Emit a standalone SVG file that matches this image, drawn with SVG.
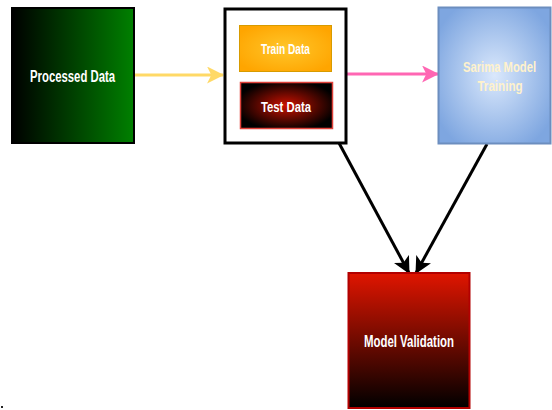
<svg xmlns="http://www.w3.org/2000/svg" width="552" height="410" viewBox="0 0 552 410">
<style>
.lbl{font-family:"Liberation Sans",Arial,sans-serif;font-weight:bold;text-anchor:middle;fill:#ffffff}
.conn{fill:none;stroke-width:3}
</style>
<defs>
<linearGradient id="gGreen" x1="0" y1="0" x2="1" y2="0"><stop offset="0" stop-color="#000000"/><stop offset="1" stop-color="#008000"/></linearGradient>
<radialGradient id="gTrain" cx="0.5" cy="0.5" r="0.6"><stop offset="0" stop-color="#FFC62A"/><stop offset="1" stop-color="#FFA500"/></radialGradient>
<radialGradient id="gTest" cx="0.5" cy="0.5" r="0.55"><stop offset="0" stop-color="#CC1100"/><stop offset="1" stop-color="#000000"/></radialGradient>
<radialGradient id="gSarima" cx="0.5" cy="0.5" r="0.6"><stop offset="0" stop-color="#DAE8FC"/><stop offset="1" stop-color="#7EA6E0"/></radialGradient>
<linearGradient id="gVal" x1="0" y1="0" x2="0" y2="1"><stop offset="0" stop-color="#E01500"/><stop offset="1" stop-color="#000000"/></linearGradient>
<marker id="mY" markerUnits="userSpaceOnUse" markerWidth="17" markerHeight="17" viewBox="0 0 16 16" refX="15" refY="8" orient="auto"><path d="M0,0 L16,8 L0,16 L4,8 Z" fill="#FFD966"/></marker>
<marker id="mP" markerUnits="userSpaceOnUse" markerWidth="17" markerHeight="17" viewBox="0 0 16 16" refX="15" refY="8" orient="auto"><path d="M0,0 L16,8 L0,16 L4,8 Z" fill="#FF66B3"/></marker>
<marker id="mK" markerUnits="userSpaceOnUse" markerWidth="17" markerHeight="17" viewBox="0 0 16 16" refX="15" refY="8" orient="auto"><path d="M0,0 L16,8 L0,16 L4,8 Z" fill="#000000"/></marker>
</defs>
<g id="connectors">
<line class="conn" x1="135" y1="75" x2="223" y2="75" stroke="#FFD966" marker-end="url(#mY)"/>
<line class="conn" x1="347" y1="74" x2="438" y2="74" stroke="#FF66B3" marker-end="url(#mP)"/>
<line class="conn" x1="339" y1="143" x2="409" y2="273" stroke="#000000" marker-end="url(#mK)"/>
<line class="conn" x1="487" y1="144" x2="416" y2="273" stroke="#000000" marker-end="url(#mK)"/>
</g>
<g id="processed">
<rect x="12" y="8" width="122" height="135" fill="url(#gGreen)" stroke="#000000" stroke-width="2"/>
<text class="lbl" x="72.5" y="82" font-size="16" textLength="85" lengthAdjust="spacingAndGlyphs">Processed Data</text>
</g>
<g id="container">
<rect x="225" y="9" width="121" height="134" fill="#ffffff" stroke="#000000" stroke-width="3"/>
</g>
<g id="train">
<rect x="239.5" y="25.5" width="92" height="46" fill="url(#gTrain)" stroke="#D79B00" stroke-width="1"/>
<text class="lbl" x="285.5" y="53.5" font-size="14.5" textLength="49" lengthAdjust="spacingAndGlyphs">Train Data</text>
</g>
<g id="test">
<rect x="240.5" y="82.5" width="92" height="46" fill="url(#gTest)" stroke="#E0413A" stroke-width="1.5"/>
<text class="lbl" x="286" y="112" font-size="15.5" textLength="50" lengthAdjust="spacingAndGlyphs">Test Data</text>
</g>
<g id="sarima">
<rect x="438.5" y="7.5" width="112" height="136" fill="url(#gSarima)" stroke="#6C8EBF" stroke-width="2"/>
<text class="lbl" transform="translate(499.5,71.5) scale(0.75,1)" x="0" y="0" font-size="15" style="fill:#FFF2CC">Sarima Model</text>
<text class="lbl" transform="translate(500,91) scale(0.75,1)" x="0" y="0" font-size="15.5" style="fill:#FFF2CC">Training</text>
</g>
<g id="validation">
<rect x="348.5" y="273" width="121" height="135" fill="url(#gVal)" stroke="#B20000" stroke-width="2"/>
<text class="lbl" x="409" y="347" font-size="16" textLength="90" lengthAdjust="spacingAndGlyphs">Model Validation</text>
</g>
<rect x="1" y="406" width="2" height="2" fill="#222222"/>
</svg>
